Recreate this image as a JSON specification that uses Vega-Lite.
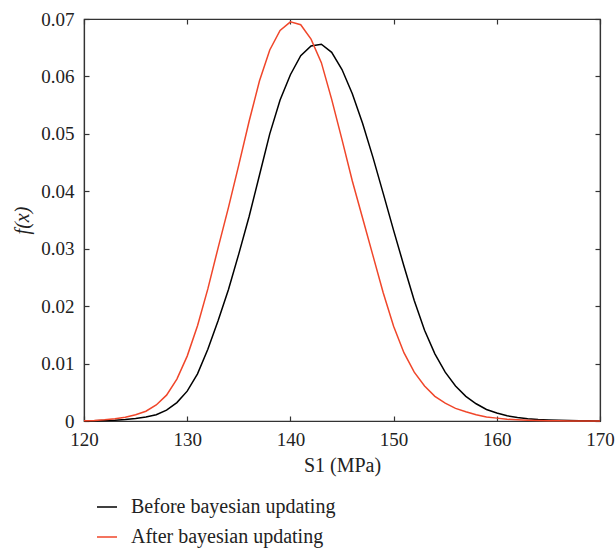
{
  "$schema": "https://vega.github.io/schema/vega-lite/v6.json",
  "width": 516,
  "height": 402,
  "autosize": {"type": "none"},
  "padding": {"left": 84, "top": 19, "right": 16, "bottom": 131},
  "background": "white",
  "config": {
    "view": {"stroke": "#333333", "strokeWidth": 1.2},
    "font": "Liberation Serif",
    "axis": {
      "grid": false,
      "domainColor": "#333333",
      "domainWidth": 1.2,
      "tickColor": "#333333",
      "tickWidth": 1.2,
      "tickSize": -5,
      "labelFlush": false,
      "labelFont": "Liberation Serif",
      "labelFontSize": 19,
      "labelColor": "#222222",
      "titleFont": "Liberation Serif",
      "titleFontSize": 19,
      "titleFontWeight": "normal",
      "titleColor": "#222222"
    },
    "legend": {
      "labelFont": "Liberation Serif",
      "labelFontSize": 20,
      "labelColor": "#222222",
      "labelLimit": 400
    }
  },
  "datasets": {
    "curves": [
      {"x": 120, "f": 0.00002, "series": "Before bayesian updating"},
      {"x": 121, "f": 0.00004, "series": "Before bayesian updating"},
      {"x": 122, "f": 0.00008, "series": "Before bayesian updating"},
      {"x": 123, "f": 0.00015, "series": "Before bayesian updating"},
      {"x": 124, "f": 0.00027, "series": "Before bayesian updating"},
      {"x": 125, "f": 0.00045, "series": "Before bayesian updating"},
      {"x": 126, "f": 0.0007, "series": "Before bayesian updating"},
      {"x": 127, "f": 0.0011, "series": "Before bayesian updating"},
      {"x": 128, "f": 0.0019, "series": "Before bayesian updating"},
      {"x": 129, "f": 0.0032, "series": "Before bayesian updating"},
      {"x": 130, "f": 0.0052, "series": "Before bayesian updating"},
      {"x": 131, "f": 0.0082, "series": "Before bayesian updating"},
      {"x": 132, "f": 0.0125, "series": "Before bayesian updating"},
      {"x": 133, "f": 0.0175, "series": "Before bayesian updating"},
      {"x": 134, "f": 0.0229, "series": "Before bayesian updating"},
      {"x": 135, "f": 0.0291, "series": "Before bayesian updating"},
      {"x": 136, "f": 0.0356, "series": "Before bayesian updating"},
      {"x": 137, "f": 0.0428, "series": "Before bayesian updating"},
      {"x": 138, "f": 0.0500, "series": "Before bayesian updating"},
      {"x": 139, "f": 0.0559, "series": "Before bayesian updating"},
      {"x": 140, "f": 0.0603, "series": "Before bayesian updating"},
      {"x": 141, "f": 0.0636, "series": "Before bayesian updating"},
      {"x": 142, "f": 0.0653, "series": "Before bayesian updating"},
      {"x": 143, "f": 0.0656, "series": "Before bayesian updating"},
      {"x": 144, "f": 0.0642, "series": "Before bayesian updating"},
      {"x": 145, "f": 0.0612, "series": "Before bayesian updating"},
      {"x": 146, "f": 0.0570, "series": "Before bayesian updating"},
      {"x": 147, "f": 0.0518, "series": "Before bayesian updating"},
      {"x": 148, "f": 0.0459, "series": "Before bayesian updating"},
      {"x": 149, "f": 0.0396, "series": "Before bayesian updating"},
      {"x": 150, "f": 0.0332, "series": "Before bayesian updating"},
      {"x": 151, "f": 0.0270, "series": "Before bayesian updating"},
      {"x": 152, "f": 0.0210, "series": "Before bayesian updating"},
      {"x": 153, "f": 0.0158, "series": "Before bayesian updating"},
      {"x": 154, "f": 0.0117, "series": "Before bayesian updating"},
      {"x": 155, "f": 0.0085, "series": "Before bayesian updating"},
      {"x": 156, "f": 0.0061, "series": "Before bayesian updating"},
      {"x": 157, "f": 0.0043, "series": "Before bayesian updating"},
      {"x": 158, "f": 0.0030, "series": "Before bayesian updating"},
      {"x": 159, "f": 0.0020, "series": "Before bayesian updating"},
      {"x": 160, "f": 0.0014, "series": "Before bayesian updating"},
      {"x": 161, "f": 0.0009, "series": "Before bayesian updating"},
      {"x": 162, "f": 0.0006, "series": "Before bayesian updating"},
      {"x": 163, "f": 0.0004, "series": "Before bayesian updating"},
      {"x": 164, "f": 0.00026, "series": "Before bayesian updating"},
      {"x": 165, "f": 0.00017, "series": "Before bayesian updating"},
      {"x": 166, "f": 0.00011, "series": "Before bayesian updating"},
      {"x": 167, "f": 0.00007, "series": "Before bayesian updating"},
      {"x": 168, "f": 0.00005, "series": "Before bayesian updating"},
      {"x": 169, "f": 0.00003, "series": "Before bayesian updating"},
      {"x": 170, "f": 0.00002, "series": "Before bayesian updating"},
      {"x": 120, "f": 0.00005, "series": "After bayesian updating"},
      {"x": 121, "f": 0.0001, "series": "After bayesian updating"},
      {"x": 122, "f": 0.0002, "series": "After bayesian updating"},
      {"x": 123, "f": 0.00038, "series": "After bayesian updating"},
      {"x": 124, "f": 0.00065, "series": "After bayesian updating"},
      {"x": 125, "f": 0.0011, "series": "After bayesian updating"},
      {"x": 126, "f": 0.0017, "series": "After bayesian updating"},
      {"x": 127, "f": 0.0028, "series": "After bayesian updating"},
      {"x": 128, "f": 0.0045, "series": "After bayesian updating"},
      {"x": 129, "f": 0.0073, "series": "After bayesian updating"},
      {"x": 130, "f": 0.0113, "series": "After bayesian updating"},
      {"x": 131, "f": 0.0166, "series": "After bayesian updating"},
      {"x": 132, "f": 0.0230, "series": "After bayesian updating"},
      {"x": 133, "f": 0.0302, "series": "After bayesian updating"},
      {"x": 134, "f": 0.0372, "series": "After bayesian updating"},
      {"x": 135, "f": 0.0446, "series": "After bayesian updating"},
      {"x": 136, "f": 0.0522, "series": "After bayesian updating"},
      {"x": 137, "f": 0.0592, "series": "After bayesian updating"},
      {"x": 138, "f": 0.0646, "series": "After bayesian updating"},
      {"x": 139, "f": 0.0680, "series": "After bayesian updating"},
      {"x": 140, "f": 0.0695, "series": "After bayesian updating"},
      {"x": 141, "f": 0.0690, "series": "After bayesian updating"},
      {"x": 142, "f": 0.0665, "series": "After bayesian updating"},
      {"x": 143, "f": 0.0624, "series": "After bayesian updating"},
      {"x": 144, "f": 0.0560, "series": "After bayesian updating"},
      {"x": 145, "f": 0.0490, "series": "After bayesian updating"},
      {"x": 146, "f": 0.0418, "series": "After bayesian updating"},
      {"x": 147, "f": 0.0353, "series": "After bayesian updating"},
      {"x": 148, "f": 0.0288, "series": "After bayesian updating"},
      {"x": 149, "f": 0.0223, "series": "After bayesian updating"},
      {"x": 150, "f": 0.0165, "series": "After bayesian updating"},
      {"x": 151, "f": 0.0119, "series": "After bayesian updating"},
      {"x": 152, "f": 0.0085, "series": "After bayesian updating"},
      {"x": 153, "f": 0.0061, "series": "After bayesian updating"},
      {"x": 154, "f": 0.0043, "series": "After bayesian updating"},
      {"x": 155, "f": 0.0031, "series": "After bayesian updating"},
      {"x": 156, "f": 0.0022, "series": "After bayesian updating"},
      {"x": 157, "f": 0.0016, "series": "After bayesian updating"},
      {"x": 158, "f": 0.0011, "series": "After bayesian updating"},
      {"x": 159, "f": 0.0007, "series": "After bayesian updating"},
      {"x": 160, "f": 0.0005, "series": "After bayesian updating"},
      {"x": 161, "f": 0.0003, "series": "After bayesian updating"},
      {"x": 162, "f": 0.0002, "series": "After bayesian updating"},
      {"x": 163, "f": 0.00013, "series": "After bayesian updating"},
      {"x": 164, "f": 0.00008, "series": "After bayesian updating"},
      {"x": 165, "f": 0.00005, "series": "After bayesian updating"},
      {"x": 166, "f": 0.00003, "series": "After bayesian updating"},
      {"x": 167, "f": 0.00002, "series": "After bayesian updating"},
      {"x": 168, "f": 0.00001, "series": "After bayesian updating"},
      {"x": 169, "f": 0.00001, "series": "After bayesian updating"},
      {"x": 170, "f": 0.00001, "series": "After bayesian updating"}
    ]
  },
  "data": {"name": "curves"},
  "resolve": {"axis": {"x": "independent", "y": "independent"}},
  "layer": [
    {
      "mark": {"type": "line", "opacity": 0},
      "encoding": {
        "x": {"field": "x", "type": "quantitative", "scale": {"domain": [120, 170], "nice": false},
              "axis": {"orient": "top", "labels": false, "title": null, "tickSize": -5, "values": [120, 130, 140, 150, 160, 170]}},
        "y": {"field": "f", "type": "quantitative", "scale": {"domain": [0, 0.07], "nice": false},
              "axis": {"orient": "right", "labels": false, "title": null, "tickSize": -5, "values": [0, 0.01, 0.02, 0.03, 0.04, 0.05, 0.06, 0.07]}},
        "detail": {"field": "series"}
      }
    },
    {
      "mark": {"type": "line", "strokeWidth": 1.5},
      "encoding": {
        "x": {"field": "x", "type": "quantitative", "scale": {"domain": [120, 170], "nice": false},
              "axis": {"orient": "bottom", "title": "S1 (MPa)", "values": [120, 130, 140, 150, 160, 170], "tickSize": -5, "labelFlush": false,
                       "labelFont": "Liberation Serif", "labelFontSize": 19, "titleFont": "Liberation Serif", "titleFontSize": 20,
                       "labelPadding": 14, "titlePadding": 6}},
        "y": {"field": "f", "type": "quantitative", "scale": {"domain": [0, 0.07], "nice": false},
              "axis": {"orient": "left", "title": "f(x)", "titleFontStyle": "italic", "values": [0, 0.01, 0.02, 0.03, 0.04, 0.05, 0.06, 0.07], "tickSize": -5, "labelFlush": false,
                       "labelFont": "Liberation Serif", "labelFontSize": 19, "titleFont": "Liberation Serif", "titleFontSize": 20,
                       "labelExpr": "datum.value == 0 ? '0' : format(datum.value, '.2f')", "labelPadding": 15, "titlePadding": 8}},
        "color": {
          "field": "series", "type": "nominal",
          "scale": {"domain": ["Before bayesian updating", "After bayesian updating"], "range": ["#000000", "#f0462a"]},
          "legend": {"orient": "none", "legendX": 12, "legendY": 477, "title": null, "symbolType": "stroke", "symbolSize": 400, "symbolStrokeWidth": 1.5, "labelOffset": 13, "rowPadding": 9, "labelLimit": 400}
        }
      }
    }
  ]
}
